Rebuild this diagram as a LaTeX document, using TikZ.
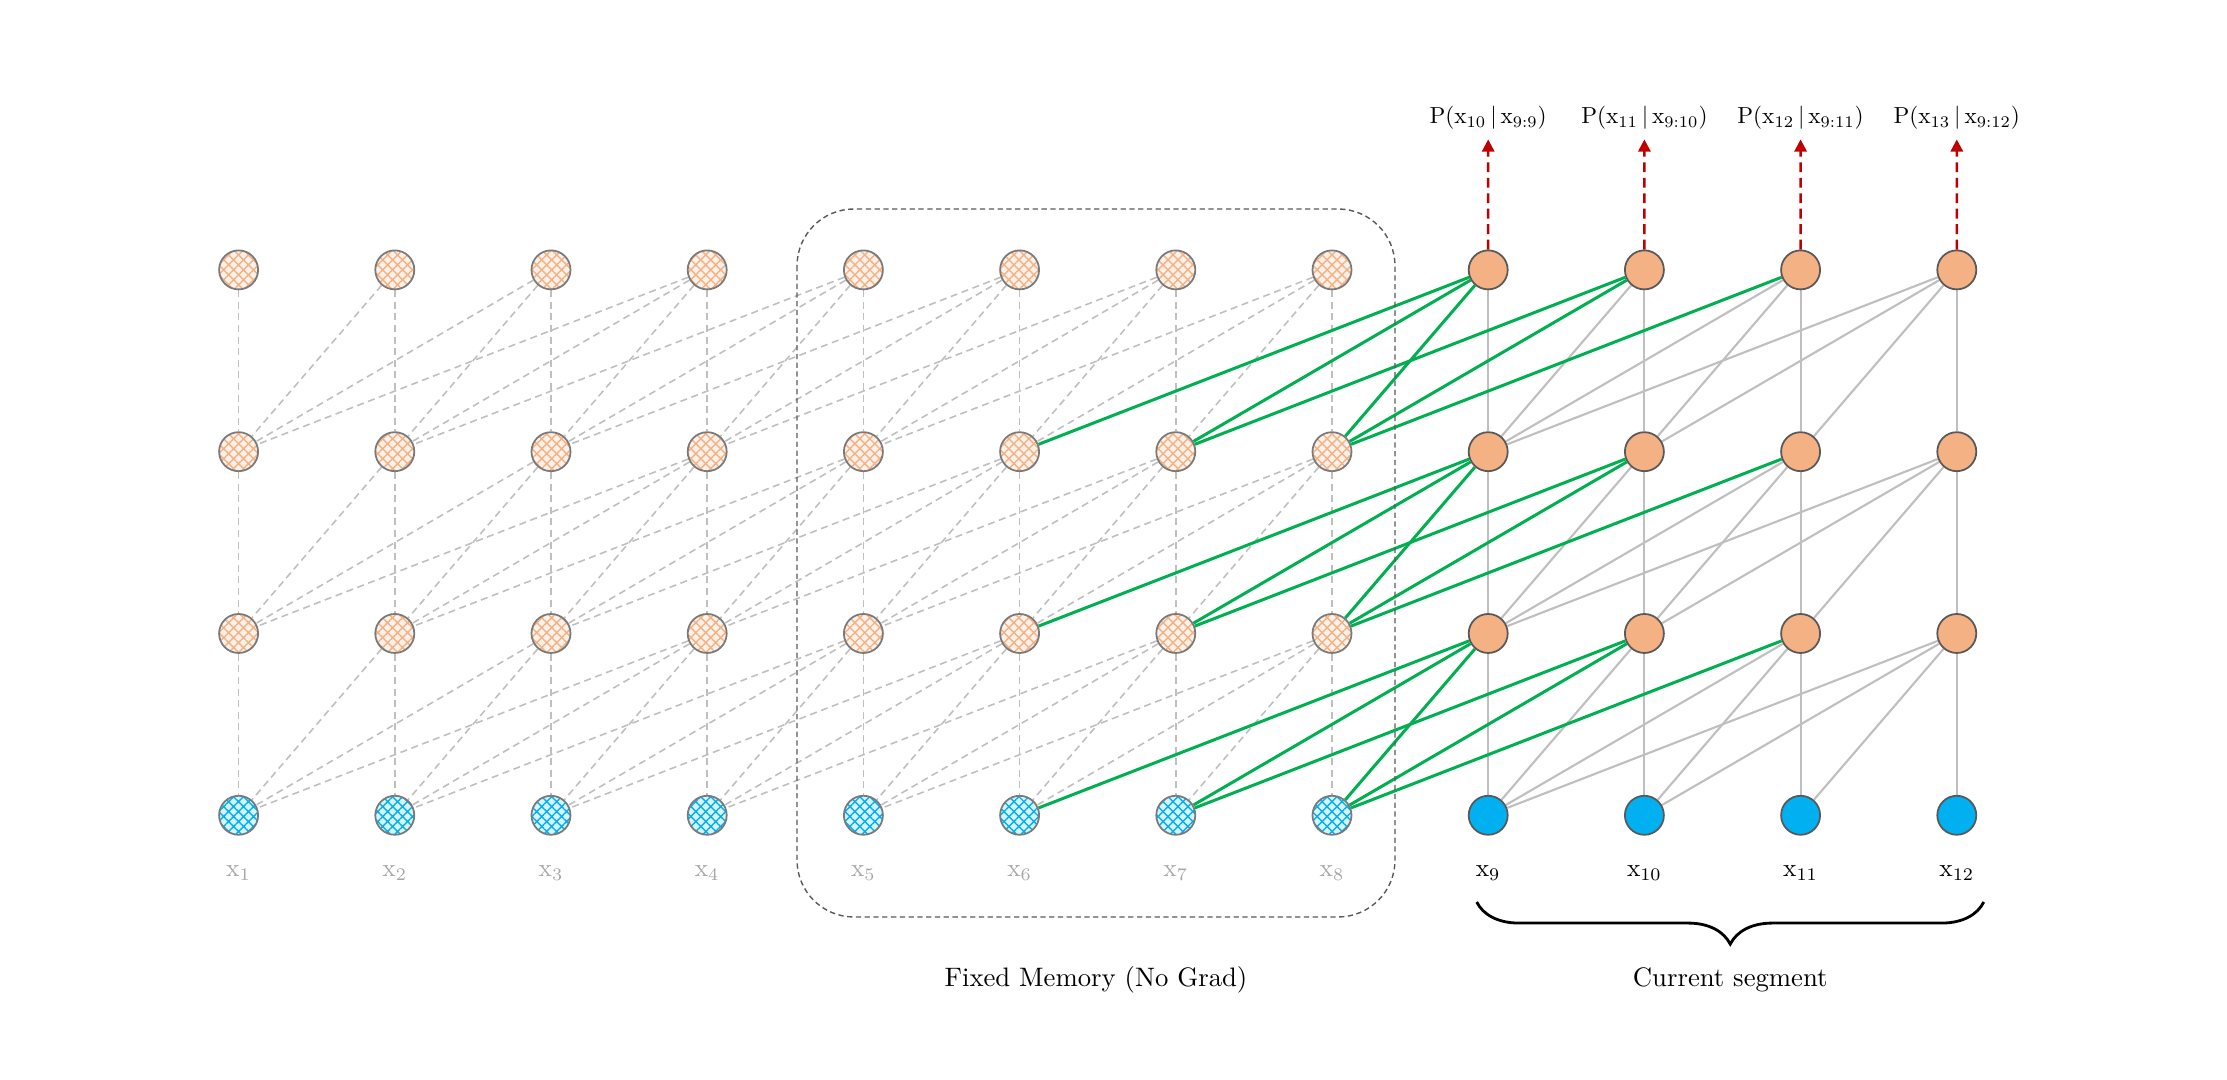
\documentclass[tikz,border=0pt]{standalone}
\usepackage{amsmath}
\usepackage{xcolor}
\usetikzlibrary{positioning,calc,backgrounds}
\usetikzlibrary{patterns.meta,arrows.meta,decorations.pathreplacing}
\definecolor{Peach}{RGB}{244,177,131}
\definecolor{Sky}{RGB}{0,176,240}
\definecolor{Leaf}{RGB}{0,176,80}
\definecolor{Brick}{RGB}{192,0,0}
\definecolor{Ash}{RGB}{191,191,191}
\definecolor{Rim}{RGB}{89,89,89}
\tikzset{
	unit/.style={circle, draw=Rim, line width=0.5pt, minimum size=0.39cm, inner sep=0pt},
	hidcur/.style={unit, fill=Peach},
	inpcur/.style={unit, fill=Sky},
	hidmem/.style={unit, draw=Rim!80, preaction={fill=Peach!18}, pattern={Hatch[angle=45,distance=2pt,line width=0.4pt]}, pattern color=Peach},
	inpmem/.style={unit, draw=Rim!80, preaction={fill=Sky!15}, pattern={Hatch[angle=45,distance=2pt,line width=0.4pt]}, pattern color=Sky},
	memlink/.style={Ash, line width=0.45pt, dash pattern=on 2pt off 1.3pt},
	curlink/.style={Ash, line width=0.6pt},
	gradlink/.style={Leaf, line width=0.85pt},
	outlink/.style={Brick, line width=0.7pt, dash pattern=on 2.8pt off 1.6pt, -{Triangle[length=3.5pt,width=3.5pt]}, shorten >=2pt},
	lbl/.style={scale=0.76, inner sep=1pt},
	xlbl/.style={scale=0.72, inner sep=1pt},
	plbl/.style={scale=0.66, inner sep=1pt},
}
\newcommand*{\colx}[1]{2.386+(#1-1)*1.562}

\begin{document}
\begin{tikzpicture}
\useasboundingbox (0,0) rectangle (22.27,10.80);

% units, 4 layers x 12 steps
\foreach \j in {1,...,12}{
	\ifnum\j<9
		\node[inpmem] (h0-\j) at ({\colx{\j}},2.647) {};
		\foreach \l in {1,2,3}
			\node[hidmem] (h\l-\j) at ({\colx{\j}},{2.647+\l*1.818}) {};
		\node[xlbl, text=black!35] (x\j) at ({\colx{\j}},2.07) {$\mathrm{x}_{\j}$};
	\else
		\node[inpcur] (h0-\j) at ({\colx{\j}},2.647) {};
		\foreach \l in {1,2,3}
			\node[hidcur] (h\l-\j) at ({\colx{\j}},{2.647+\l*1.818}) {};
		\node[xlbl] (x\j) at ({\colx{\j}},2.07) {$\mathrm{x}_{\j}$};
	\fi
}

% each unit looks back over 4 steps of the layer below
\begin{scope}[on background layer]
\foreach \l [evaluate=\l as \m using int(\l+1)] in {0,1,2}{
	\foreach \j in {1,...,12}{
		\foreach \k in {0,...,3}{
			\pgfmathtruncatemacro{\i}{\j-\k}
			\ifnum\i>0
				\ifnum\j<9
					\draw[memlink] (h\m-\j) -- (h\l-\i);
				\else\ifnum\i<9
					\draw[gradlink] (h\m-\j) -- (h\l-\i);
				\else
					\draw[curlink] (h\m-\j) -- (h\l-\i);
				\fi\fi
			\fi
		}
	}
}
\end{scope}

\foreach \j in {9,...,12}{
	\pgfmathtruncatemacro{\nx}{\j+1}
	\node[plbl] (p\j) at ({\colx{\j}},9.62) {$\mathrm{P}(\mathrm{x}_{\nx}\,|\,\mathrm{x}_{9{:}\j})$};
	\draw[outlink] (h3-\j) -- (p\j);
}

\coordinate (memtl) at ($(h3-5)+(-0.664,0.609)$);
\coordinate (membr) at ($(h0-8)+(0.63,-1.017)$);
\draw[Rim, line width=0.4pt, dash pattern=on 1.5pt off 1pt, rounded corners=0.57cm] (memtl) rectangle (membr);
\node[lbl] (memlab) at ($(memtl|-membr)!0.5!(membr)+(0,-0.63)$) {Fixed Memory (No Grad)};

\coordinate (segl) at ($(x9)+(-0.115,-0.29)$);
\coordinate (segr) at ($(x12)+(0.27,-0.29)$);
\draw[decorate, decoration={brace, mirror, amplitude=12pt}, line width=0.8pt] (segl) -- (segr);
\node[lbl] (seglab) at ($(segl)!0.5!(segr)+(0,-0.78)$) {Current segment};

\end{tikzpicture}
\end{document}
